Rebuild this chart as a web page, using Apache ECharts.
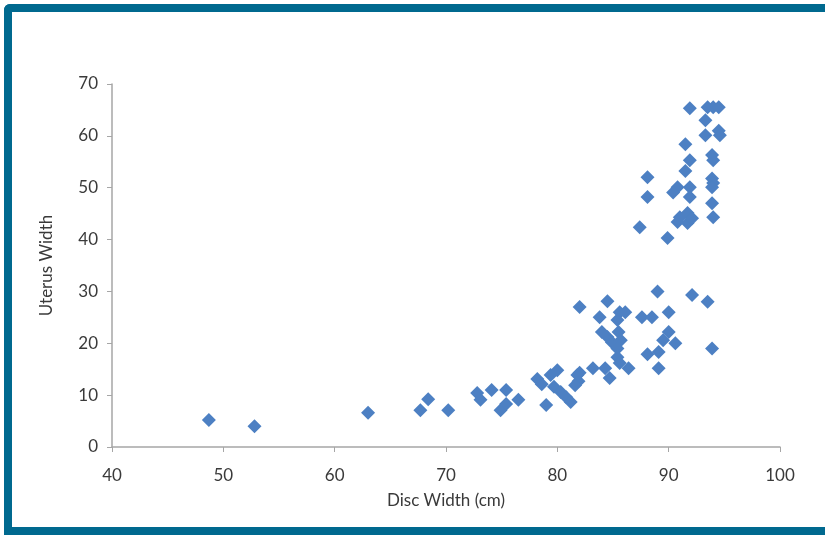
<!DOCTYPE html>
<html>
<head>
<meta charset="utf-8">
<script src="https://cdn.jsdelivr.net/npm/echarts@6/dist/echarts.min.js"></script>
<style>
  html, body { margin: 0; padding: 0; background: #fff; }
  #frame { position: absolute; left: 4px; top: 4px; width: 821px; height: 531px; box-sizing: border-box;
           border-left: 8px solid #00698f; border-top: 8px solid #00698f; border-bottom: 8px solid #00698f;
           border-top-left-radius: 6px; }
  #chart { position: absolute; left: 0; top: 0; width: 825px; height: 535px; }
</style>
</head>
<body>
<div id="frame"></div>
<div id="chart"></div>
<script>
// Disc width (cm)
const discWidth = [
  48.7, 52.8, 63.0, 67.7, 68.4, 70.2, 72.8, 73.1, 74.1, 75.4, 74.9, 75.4, 76.5,
  78.2, 78.6, 79.0, 79.4, 80.0, 79.7, 80.3, 80.8, 81.2, 81.9, 82.0, 81.8, 81.6,
  82.0, 84.5, 83.8, 85.6, 86.1, 85.4, 87.6, 88.5, 90.0, 84.0, 84.5, 84.9, 85.5,
  85.7, 85.4, 90.0, 89.5, 90.6, 88.1, 89.1, 93.9, 85.4, 85.6, 83.2, 84.3, 86.4,
  84.7, 89.1, 89.0, 92.1, 93.5,
  91.9, 93.5, 94.0, 94.5, 93.3, 93.3, 94.5, 94.6, 91.5, 91.9, 93.9, 94.0, 91.5,
  88.1, 93.9, 94.0, 93.9, 90.8, 90.4, 88.1, 91.9, 91.9, 93.9, 91.0, 90.8, 91.7,
  91.7, 92.1, 94.0, 87.4, 89.9
];
// Uterus width
const uterusWidth = [
  5.2, 4.0, 6.6, 7.1, 9.2, 7.1, 10.4, 9.1, 11.0, 11.0, 7.1, 8.3, 9.1,
  13.1, 12.1, 8.1, 13.9, 14.8, 11.6, 10.6, 9.6, 8.7, 12.7, 14.3, 13.9, 11.9,
  27.0, 28.1, 25.0, 26.0, 26.0, 24.5, 25.0, 25.0, 26.0, 22.2, 21.2, 20.2, 22.2,
  20.6, 19.0, 22.2, 20.6, 20.0, 17.9, 18.3, 19.0, 17.3, 16.2, 15.2, 15.2, 15.2,
  13.3, 15.2, 30.0, 29.3, 28.0,
  65.3, 65.5, 65.5, 65.5, 63.0, 60.1, 61.0, 60.1, 58.4, 55.3, 56.3, 55.3, 53.2,
  52.0, 51.8, 50.9, 50.1, 50.1, 49.1, 48.2, 50.1, 48.2, 47.0, 44.3, 43.4, 45.1,
  43.2, 44.1, 44.3, 42.4, 40.3
];
const xTicks = [40, 50, 60, 70, 80, 90, 100];
const yTicks = [0, 10, 20, 30, 40, 50, 60, 70];

const points = discWidth.map((x, i) => [x, uterusWidth[i]]);
const font = 'Lato, "Open Sans", sans-serif';

const chart = echarts.init(document.getElementById('chart'), null, { renderer: 'canvas' });
chart.setOption({
  animation: false,
  backgroundColor: 'transparent',
  grid: { left: 112, right: 45, top: 84, bottom: 88, containLabel: false },
  xAxis: {
    type: 'value', min: xTicks[0], max: xTicks[xTicks.length - 1], interval: 10,
    name: 'Disc Width (cm)', nameLocation: 'middle', nameGap: 45,
    nameTextStyle: { fontFamily: font, fontSize: 17, color: '#3a3a3a' },
    axisLine: { show: true, lineStyle: { color: '#a6a6a6', width: 1.5 } },
    axisTick: { show: true, length: 5, lineStyle: { color: '#a6a6a6' } },
    axisLabel: { fontFamily: font, fontSize: 17, color: '#3a3a3a', margin: 20 },
    splitLine: { show: false }
  },
  yAxis: {
    type: 'value', min: yTicks[0], max: yTicks[yTicks.length - 1], interval: 10,
    name: 'Uterus Width', nameLocation: 'middle', nameGap: 57,
    nameTextStyle: { fontFamily: font, fontSize: 17, color: '#3a3a3a' },
    axisLine: { show: true, lineStyle: { color: '#a6a6a6', width: 1.5 } },
    axisTick: { show: true, length: 5, lineStyle: { color: '#a6a6a6' } },
    axisLabel: { fontFamily: font, fontSize: 17, color: '#3a3a3a', margin: 14 },
    splitLine: { show: false }
  },
  series: [{
    type: 'scatter',
    data: points,
    symbol: 'diamond',
    symbolSize: 14,
    itemStyle: { color: '#4d80c3', opacity: 1 }
  }]
});
</script>
</body>
</html>
